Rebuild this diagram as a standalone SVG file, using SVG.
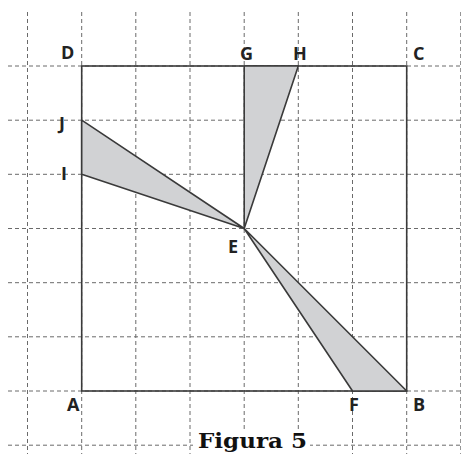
<svg xmlns="http://www.w3.org/2000/svg" width="461" height="454" viewBox="0 0 461 454">
<style>
.grid{stroke:#6a6a6a;stroke-width:1;stroke-dasharray:4 3;fill:none}
.edge{stroke:#3a3a3a;stroke-width:1.6;fill:none}
.tri{fill:#d1d2d4;stroke:#3a3a3a;stroke-width:1.6;stroke-linejoin:round}
.lbl{font-family:"Open Sans","DejaVu Sans",sans-serif;font-weight:bold;font-size:18px;fill:#222}
.cap{font-family:"DejaVu Serif","Liberation Serif",serif;font-weight:bold;font-size:21px;fill:#111}
</style>
<rect width="461" height="454" fill="#fff"/>
<g id="grid">
<path class="grid" d="M27.5 12V454M81.7 12V454M135.8 12V454M190 12V454M244.2 12V454M298.3 12V454M352.5 12V454M406.7 12V454M460.8 12V454"/>
<path class="grid" d="M8 66H461M8 120.2H461M8 174.3H461M8 228.5H461M8 282.7H461M8 336.8H461M8 391H461M8 445.2H461"/>
</g>
<g id="square"><rect class="edge" x="81.7" y="66" width="325" height="325"/></g>
<g id="connectors">
<polygon id="tri-JEI" class="tri" points="81.7,120.2 244.2,228.5 81.7,174.3"/>
<polygon id="tri-GHE" class="tri" points="244.2,66 298.3,66 244.2,228.5"/>
<polygon id="tri-EFB" class="tri" points="244.2,228.5 406.7,391 352.5,391"/>
</g>
<g id="labels">
<text class="lbl" x="61" y="59">D</text>
<text class="lbl" x="240" y="60">G</text>
<text class="lbl" x="293" y="60">H</text>
<text class="lbl" x="413" y="60">C</text>
<text class="lbl" x="59" y="130">J</text>
<text class="lbl" x="61" y="180">I</text>
<text class="lbl" x="228" y="253">E</text>
<text class="lbl" x="67" y="411">A</text>
<text class="lbl" x="349" y="411">F</text>
<text class="lbl" x="413" y="411">B</text>
</g>
<g id="caption">
<rect x="193" y="430" width="117" height="24" fill="#fff"/>
<text class="cap" x="198" y="448" textLength="109" lengthAdjust="spacingAndGlyphs">Figura 5</text>
</g>
</svg>
